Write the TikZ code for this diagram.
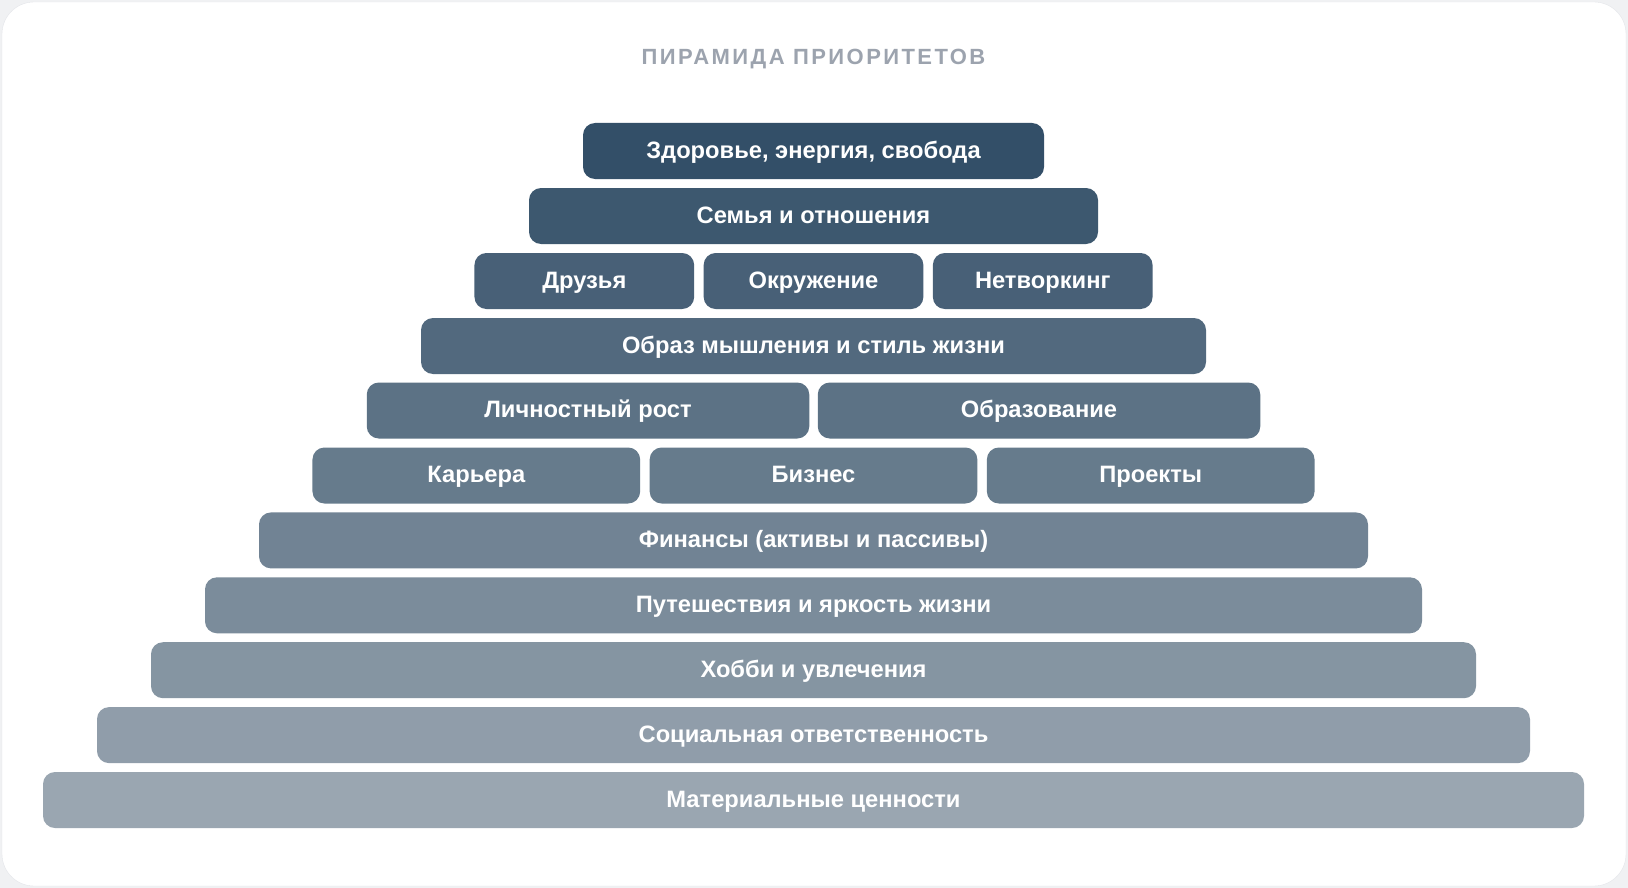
\documentclass[tikz,border=0pt]{standalone}
\usepackage{fontspec}
\setmainfont{Liberation Sans}
\definecolor{bartop}{HTML}{334F68}
\definecolor{barbottom}{HTML}{9AA6B1}
\definecolor{titlegray}{HTML}{9CA3AE}
\definecolor{pagegray}{HTML}{F0F1F3}
\definecolor{cardedge}{HTML}{E3E5E9}
\begin{document}
\begin{tikzpicture}[x=1pt, y=-1pt,
    bar/.style={rounded corners=12pt, inner sep=0pt, text=white,
        font=\bfseries\fontsize{23.7}{28}\selectfont, minimum height=56pt,
        text height=17pt, text depth=3pt}]
        \useasboundingbox (0,0) rectangle (1628,888);
        \fill[pagegray] (0,0) rectangle (1628,888);
        \draw[cardedge, fill=white, rounded corners=32pt] (2,2) rectangle (1626,886);

        %%title
        \node[text=titlegray, font=\bfseries\fontsize{22}{26}\selectfont\addfontfeature{LetterSpace=11}] (title) at (813.5,59) {ПИРАМИДА ПРИОРИТЕТОВ};

        %%row 1
        \node[bar, fill=bartop, minimum width=461pt] (health) at (813.5,151) {Здоровье, энергия, свобода};

        %%row 2
        \node[bar, fill=bartop!90!barbottom, minimum width=569pt] (family) at (813.5,216) {Семья и отношения};

        %%row 3
        \node[bar, fill=bartop!80!barbottom, minimum width=219.7pt] (friends) at (584.3,281) {Друзья};
        \node[bar, fill=bartop!80!barbottom, minimum width=219.7pt] (milieu) at (813.5,281) {Окружение};
        \node[bar, fill=bartop!80!barbottom, minimum width=219.7pt] (networking) at (1042.7,281) {Нетворкинг};

        %%row 4
        \node[bar, fill=bartop!70!barbottom, minimum width=785pt] (mindset) at (813.5,346) {Образ мышления и стиль жизни};

        %%row 5
        \node[bar, fill=bartop!60!barbottom, minimum width=442.5pt] (growth) at (588,410.5) {Личностный рост};
        \node[bar, fill=bartop!60!barbottom, minimum width=442.5pt] (education) at (1039,410.5) {Образование};

        %%row 6
        \node[bar, fill=bartop!50!barbottom, minimum width=327.7pt] (career) at (476.3,475.5) {Карьера};
        \node[bar, fill=bartop!50!barbottom, minimum width=327.7pt] (business) at (813.5,475.5) {Бизнес};
        \node[bar, fill=bartop!50!barbottom, minimum width=327.7pt] (projects) at (1150.7,475.5) {Проекты};

        %%row 7
        \node[bar, fill=bartop!40!barbottom, minimum width=1109pt] (finance) at (813.5,540.4) {Финансы (активы и пассивы)};

        %%row 8
        \node[bar, fill=bartop!30!barbottom, minimum width=1217pt] (travel) at (813.5,605.3) {Путешествия и яркость жизни};

        %%row 9
        \node[bar, fill=bartop!20!barbottom, minimum width=1325pt] (hobby) at (813.5,670.2) {Хобби и увлечения};

        %%row 10
        \node[bar, fill=bartop!10!barbottom, minimum width=1433pt] (social) at (813.5,735.1) {Социальная ответственность};

        %%row 11
        \node[bar, fill=barbottom, minimum width=1541pt] (material) at (813.5,800) {Материальные ценности};

    \end{tikzpicture}
\end{document}
